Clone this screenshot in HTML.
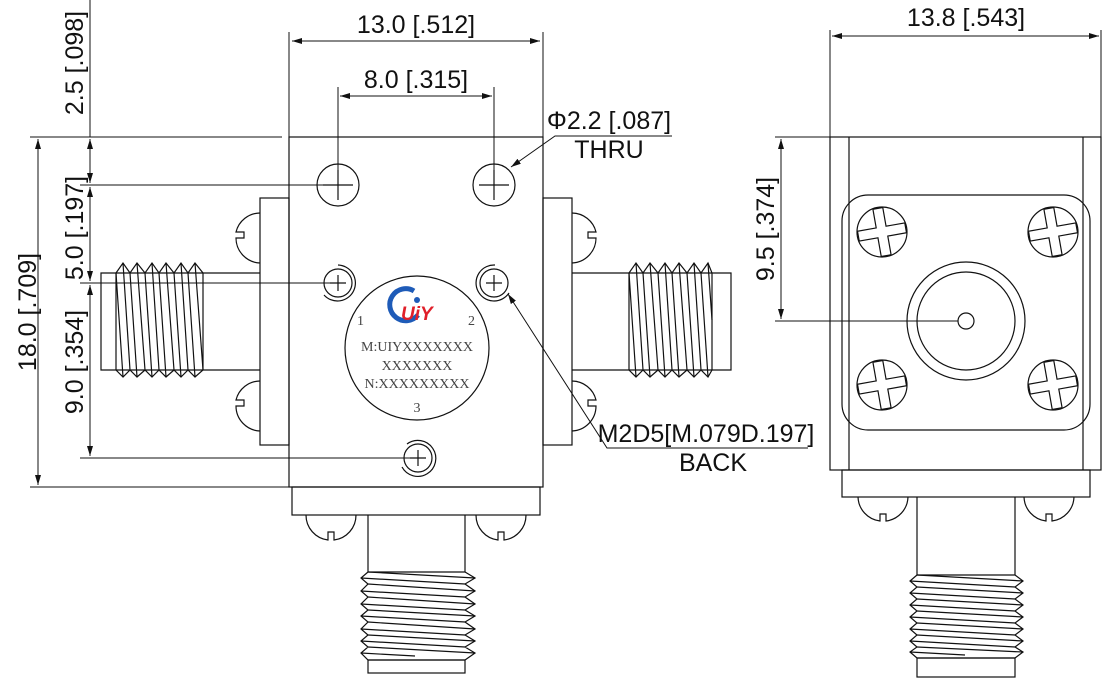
<!DOCTYPE html>
<html><head><meta charset="utf-8"><style>
html,body{margin:0;padding:0;background:#fff;}
svg{display:block;}
.d{font-family:"Liberation Sans",sans-serif;font-size:25px;fill:#111;}
.s{font-family:"Liberation Serif",serif;font-size:14px;fill:#444;}
</style></head><body>
<svg width="1114" height="681" viewBox="0 0 1114 681" xmlns="http://www.w3.org/2000/svg">
<defs>
<marker id="a" viewBox="0 0 10 6" refX="10" refY="3" markerWidth="10" markerHeight="6" orient="auto-start-reverse" markerUnits="userSpaceOnUse"><path d="M0,0 L10,3 L0,6 z" fill="#111"/></marker>
<g id="cr" fill="none" stroke="#111" stroke-width="1.2">
<circle r="25"/>
<polygon transform="rotate(-10)" points="-5,-24 5,-24 5,-5 24,-5 24,5 5,5 5,24 -5,24 -5,5 -24,5 -24,-5 -5,-5"/>
</g>
</defs>
<g fill="none" stroke="#111" stroke-width="1.2">
<!-- MAIN BODY -->
<rect x="289" y="137" width="254" height="350"/>
<rect x="260" y="198" width="29" height="247"/>
<rect x="543" y="198" width="29" height="247"/>
<path d="M260,213 A25,25 0 0 0 236,232 h8 v6 h-8 A25,25 0 0 0 260,263"/>
<path d="M260,381 A25,25 0 0 0 236,400 h8 v6 h-8 A25,25 0 0 0 260,431"/>
<path d="M572,213 A25,25 0 0 1 596,232 h-8 v6 h8 A25,25 0 0 1 572,263"/>
<path d="M572,381 A25,25 0 0 1 596,400 h-8 v6 h8 A25,25 0 0 1 572,431"/>
<!-- left connector -->
<path d="M260,273 H101 V370 H260"/>
<polyline points="116,273 123,263 130,273 137,263 145,273 152,263 159,273 166,263 174,273 181,263 188,273 195,263 203,273 203,370 195,377 188,370 181,377 174,370 166,377 159,370 152,377 145,370 137,377 130,370 123,377 116,370 116,273"/>
<path d="M116,273 L123,377 M123,263 L130,370 M130,273 L137,377 M137,263 L145,370 M145,273 L152,377 M152,263 L159,370 M159,273 L166,377 M166,263 L174,370 M174,273 L181,377 M181,263 L188,370 M188,273 L195,377 M195,263 L203,370"/>
<!-- right connector -->
<path d="M572,273 H731 V370 H572"/>
<polyline points="629,273 636,263 643,273 650,263 658,273 665,263 672,273 679,263 687,273 694,263 701,273 708,263 712,273 712,370 708,377 701,370 694,377 687,370 679,377 672,370 665,377 658,370 650,377 643,370 636,377 629,370 629,273"/>
<path d="M629,273 L636,377 M636,263 L643,370 M643,273 L650,377 M650,263 L658,370 M658,273 L665,377 M665,263 L672,370 M672,273 L679,377 M679,263 L687,370 M687,273 L694,377 M694,263 L701,370 M701,273 L708,377 M708,263 L712,320"/>
<!-- holes -->
<circle cx="338" cy="185" r="21"/><path d="M338,170 V200 M323,185 H353"/>
<circle cx="494" cy="185" r="21"/><path d="M494,170 V200 M479,185 H509"/>
<circle cx="338" cy="283" r="14"/><path d="M338,275 V291 M330,283 H346"/>
<path d="M338,265 A18,18 0 1 1 324,295"/>
<circle cx="494" cy="283" r="14"/><path d="M494,275 V291 M486,283 H502"/>
<path d="M509,293 A18,18 0 1 1 495,265"/>
<circle cx="418" cy="458" r="14"/><path d="M418,450 V466 M410,458 H426"/>
<path d="M407,444 A18,18 0 1 1 402,467"/>
<circle cx="417" cy="348" r="72"/>
<!-- bottom connector main -->
<rect x="292" y="487" width="248" height="28"/>
<path d="M306,515 A25,25 0 0 0 328,540 v-8 h6 v8 A25,25 0 0 0 356,515"/>
<path d="M476,515 A25,25 0 0 0 498,540 v-8 h6 v8 A25,25 0 0 0 526,515"/>
<path d="M368,515 V572 M465,515 V572"/>
<polyline points="368,572 361,578 368,584 361,591 368,597 361,604 368,610 361,616 368,622 361,629 368,635 361,641 368,647 361,653 368,660 465,660 475,653 465,647 475,641 465,635 475,629 465,622 475,616 465,610 475,604 465,597 475,591 465,584 475,578 465,572 368,572"/>
<path d="M368,572 L475,578 M361,578 L465,584 M368,584 L475,591 M361,591 L465,597 M368,597 L475,604 M361,604 L465,610 M368,610 L475,616 M361,616 L465,622 M368,622 L475,629 M361,629 L465,635 M368,635 L475,641 M361,641 L465,647 M368,647 L475,653 M361,653 L415,656"/>
<rect x="368" y="660" width="97" height="13"/>
<!-- RIGHT VIEW -->
<rect x="830" y="137" width="271" height="333"/>
<path d="M849,137 V470 M1083,137 V470"/>
<rect x="842" y="195" width="248" height="235" rx="26"/>
<circle cx="966" cy="321" r="59"/>
<circle cx="966" cy="321" r="49"/>
<circle cx="966" cy="321" r="8"/>
<rect x="842" y="470" width="248" height="27"/>
<path d="M858,497 A25,25 0 0 0 880,521 v-7 h6 v7 A25,25 0 0 0 908,497"/>
<path d="M1024,497 A25,25 0 0 0 1046,521 v-7 h6 v7 A25,25 0 0 0 1074,497"/>
<path d="M917,497 V575 M1015,497 V575"/>
<polyline points="917,575 910,581 917,587 910,593 917,599 910,605 917,611 910,617 917,623 910,629 917,635 910,641 917,647 910,652 917,658 1015,658 1023,652 1015,647 1023,641 1015,635 1023,629 1015,623 1023,617 1015,611 1023,605 1015,599 1023,593 1015,587 1023,581 1015,575 917,575"/>
<path d="M917,575 L1023,581 M910,581 L1015,587 M917,587 L1023,593 M910,593 L1015,599 M917,599 L1023,605 M910,605 L1015,611 M917,611 L1023,617 M910,617 L1015,623 M917,623 L1023,629 M910,629 L1015,635 M917,635 L1023,641 M910,641 L1015,647 M917,647 L1023,652 M910,652 L965,655"/>
<rect x="917" y="658" width="98" height="19"/>
</g>
<use href="#cr" x="882" y="232"/>
<use href="#cr" x="1053" y="232"/>
<use href="#cr" x="882" y="385"/>
<use href="#cr" x="1053" y="385"/>
<!-- logo -->
<path d="M414,291 A16,16 0 1 0 418,315" fill="none" stroke="#1e5bb8" stroke-width="5"/>
<circle cx="417" cy="300" r="3" fill="#1e5bb8"/>
<text x="401" y="320" font-family="Liberation Sans,sans-serif" font-size="19" font-weight="bold" font-style="italic" fill="#e0202a">UiY</text>
<text class="s" x="357" y="325">1</text>
<text class="s" x="468" y="325">2</text>
<text class="s" x="417" y="351" text-anchor="middle">M:UIYXXXXXXX</text>
<text class="s" x="417" y="370" text-anchor="middle">XXXXXXX</text>
<text class="s" x="417" y="388" text-anchor="middle">N:XXXXXXXXX</text>
<text class="s" x="417" y="412" text-anchor="middle">3</text>
<!-- DIMENSIONS -->
<g stroke="#111" stroke-width="1" fill="none">
<path d="M289,32 V137 M543,32 V137"/>
<path d="M292,41 H540" marker-start="url(#a)" marker-end="url(#a)"/>
<path d="M338,87 V170 M494,87 V170"/>
<path d="M340,96 H492" marker-start="url(#a)" marker-end="url(#a)"/>
<path d="M830,30 V137 M1101,30 V137"/>
<path d="M832,36 H1099" marker-start="url(#a)" marker-end="url(#a)"/>
<path d="M30,137 H282 M30,487 H289"/>
<path d="M38,139 V485" marker-start="url(#a)" marker-end="url(#a)"/>
<path d="M90,0 V137"/>
<path d="M80,185 H338 M80,283 H338 M80,458 H418"/>
<path d="M90,139 V183" marker-start="url(#a)" marker-end="url(#a)"/>
<path d="M90,187 V281" marker-start="url(#a)" marker-end="url(#a)"/>
<path d="M90,285 V456" marker-start="url(#a)" marker-end="url(#a)"/>
<path d="M775,137 H830 M775,321 H958"/>
<path d="M781,139 V319" marker-start="url(#a)" marker-end="url(#a)"/>
<path d="M672,136 H555 L511,167" marker-end="url(#a)"/>
<path d="M808,448 H607 L508,294" marker-end="url(#a)"/>
</g>
<text class="d" x="416" y="33" text-anchor="middle">13.0 [.512]</text>
<text class="d" x="416" y="88" text-anchor="middle">8.0 [.315]</text>
<text class="d" x="966" y="26" text-anchor="middle">13.8 [.543]</text>
<text class="d" x="609" y="129" text-anchor="middle">Φ2.2 [.087]</text>
<text class="d" x="609" y="158" text-anchor="middle">THRU</text>
<text class="d" x="706" y="442" text-anchor="middle">M2D5[M.079D.197]</text>
<text class="d" x="713" y="471" text-anchor="middle">BACK</text>
<text class="d" transform="translate(36,312) rotate(-90)" text-anchor="middle">18.0 [.709]</text>
<text class="d" transform="translate(83,63) rotate(-90)" text-anchor="middle">2.5 [.098]</text>
<text class="d" transform="translate(83,228) rotate(-90)" text-anchor="middle">5.0 [.197]</text>
<text class="d" transform="translate(83,362) rotate(-90)" text-anchor="middle">9.0 [.354]</text>
<text class="d" transform="translate(774,229) rotate(-90)" text-anchor="middle">9.5 [.374]</text>
</svg>
</body></html>
